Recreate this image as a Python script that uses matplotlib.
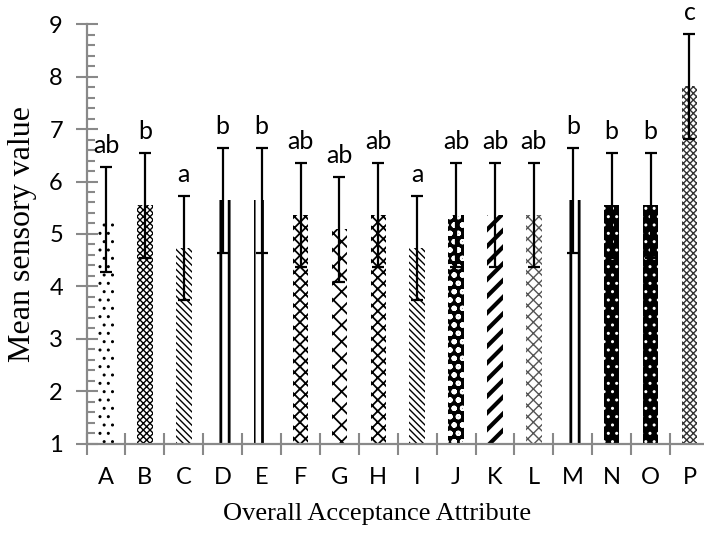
import numpy as np
import matplotlib
matplotlib.use('Agg')
import matplotlib.pyplot as plt

# mean sensory values and error bars
samples = ['A', 'B', 'C', 'D', 'E', 'F', 'G', 'H', 'I', 'J', 'K', 'L', 'M', 'N', 'O', 'P']
means = [5.28, 5.55, 4.73, 5.64, 5.64, 5.36, 5.09, 5.36, 4.73, 5.36, 5.36, 5.36, 5.64, 5.55, 5.55, 7.82]
errors = [1.0, 1.0, 1.0, 1.0, 1.0, 1.0, 1.0, 1.0, 1.0, 1.0, 1.0, 1.0, 1.0, 1.0, 1.0, 1.0]
letters = ['ab', 'b', 'a', 'b', 'b', 'ab', 'ab', 'ab', 'a', 'ab', 'ab', 'ab', 'b', 'b', 'b', 'c']

# fill pattern for each bar: (hatch, face colour, hatch colour, hatch width)
patterns = [
    ('..', 'white', 'black', 1.0),
    ('xxxxx', 'white', 'black', 1.0),
    ('\\\\\\\\\\', 'white', 'black', 1.0),
    ('||', 'white', 'black', 2.0),
    ('||', 'white', 'black', 2.0),
    ('xxx', 'white', 'black', 1.3),
    ('xx', 'white', 'black', 1.3),
    ('xxx', 'white', 'black', 1.3),
    ('\\\\\\\\\\', 'white', 'black', 1.0),
    ('oo', 'black', 'white', 1.5),
    ('//', 'white', 'black', 3.0),
    ('xxx', 'white', '#555555', 1.0),
    ('||', 'white', 'black', 2.0),
    ('..', 'black', 'white', 1.0),
    ('..', 'black', 'white', 1.0),
    ('xxxxx', 'white', '#333333', 1.0),
]

axis_gray = '#898989'
tick_font = 'Lato'

plt.rcParams['hatch.linewidth'] = 1.3

fig = plt.figure(figsize=(7.04, 5.39), dpi=100)
ax = fig.add_axes([0.123, 0.177, 0.884, 0.778])

x = np.arange(len(samples))
for i in range(len(samples)):
    hatch, face, hcol, hwidth = patterns[i]
    bars = ax.bar(x[i], means[i] - 1, bottom=1, width=0.4, color=face,
                  edgecolor=hcol, linewidth=0, hatch=hatch, zorder=2)
    for b in bars:
        if hasattr(b, 'set_hatch_linewidth'):
            b.set_hatch_linewidth(hwidth)

ax.errorbar(x, means, yerr=errors, fmt='none', ecolor='black',
            elinewidth=1.6, capsize=4.3, capthick=1.6, zorder=3)

for i in range(len(samples)):
    ax.annotate(letters[i], (x[i], means[i] + errors[i]), xytext=(0, 7),
                textcoords='offset points', ha='center', va='bottom',
                fontsize=18, family=tick_font)

ax.set_xlim(-0.5, len(samples) - 0.5)
ax.set_ylim(1, 9)

# tick marks sit between categories, labels sit under the bars
ax.set_xticks(np.arange(len(samples) + 1) - 0.5)
ax.set_xticklabels([])
ax.set_xticks(x, minor=True)
ax.set_xticklabels(samples, minor=True, fontsize=17, family=tick_font)
ax.tick_params(axis='x', which='major', direction='inout', length=16,
               width=1.5, color=axis_gray)
ax.tick_params(axis='x', which='minor', length=0, pad=17)

ax.set_yticks(np.arange(1, 10))
ax.set_yticks(np.arange(1, 9.01, 0.2), minor=True)
ax.set_yticklabels([str(v) for v in range(1, 10)], fontsize=17, family=tick_font)
ax.tick_params(axis='y', which='major', direction='inout', length=16,
               width=1.5, color=axis_gray, pad=9)
ax.tick_params(axis='y', which='minor', direction='in', length=5.5,
               width=1.5, color=axis_gray)

for side in ['top', 'right']:
    ax.spines[side].set_visible(False)
for side in ['left', 'bottom']:
    ax.spines[side].set_color(axis_gray)
    ax.spines[side].set_linewidth(1.6)

ax.set_xlabel('Overall Acceptance Attribute', fontsize=19,
              family='Liberation Serif')
ax.xaxis.set_label_coords(0.467, -0.142)
ax.set_ylabel('Mean sensory value', fontsize=23,
              family='Liberation Serif')
ax.yaxis.set_label_coords(-0.08, 0.5)

fig.savefig('out.png', dpi=100)
